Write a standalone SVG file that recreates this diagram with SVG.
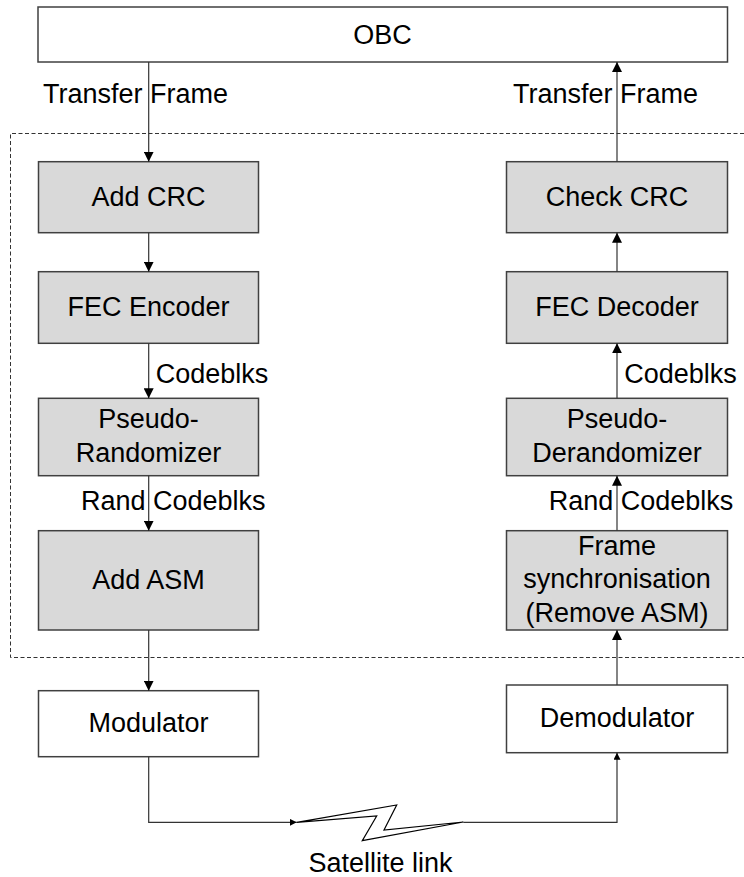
<svg xmlns="http://www.w3.org/2000/svg" width="744" height="877" viewBox="0 0 744 877">
<defs>
<style>
text{font-family:"Liberation Sans",Arial,sans-serif;font-size:27px;fill:#000}
.c{text-anchor:middle}
.box{fill:#d9d9d9;stroke:#404040;stroke-width:1.5}
.wbox{fill:#fff;stroke:#404040;stroke-width:1.5}
.ln{fill:none;stroke:#333;stroke-width:1.2}
.dash{fill:none;stroke:#333;stroke-width:1;stroke-dasharray:4,2.5}
</style>
<marker id="ah" viewBox="0 0 10 10" refX="10" refY="5" markerWidth="10" markerHeight="10" markerUnits="userSpaceOnUse" orient="auto">
<path d="M0,0 L10,5 L0,10 Z" fill="#000"/>
</marker>
<marker id="ahs" viewBox="0 0 10 10" refX="10" refY="5" markerWidth="7" markerHeight="7" markerUnits="userSpaceOnUse" orient="auto">
<path d="M0,0 L10,5 L0,10 Z" fill="#000"/>
</marker>
</defs>
<path class="dash" d="M744,133.5 H10.5 V657.5 H744"/>
<g id="obc"><rect class="wbox" x="38" y="7" width="689.5" height="55"/><text class="c" x="382.5" y="44">OBC</text></g>
<g id="addcrc"><rect class="box" x="38.5" y="161.7" width="220" height="71"/><text class="c" x="148.5" y="206">Add CRC</text></g>
<g id="fecenc"><rect class="box" x="38.5" y="271.7" width="220" height="71.6"/><text class="c" x="148.5" y="316">FEC Encoder</text></g>
<g id="pseudor"><rect class="box" x="38.5" y="398.3" width="220" height="77.4"/><text class="c" x="148.5" y="428.3">Pseudo-</text><text class="c" x="148.5" y="461.7">Randomizer</text></g>
<g id="addasm"><rect class="box" x="38.5" y="530.7" width="220" height="99.3"/><text class="c" x="148.5" y="589">Add ASM</text></g>
<g id="mod"><rect class="wbox" x="38.5" y="690.7" width="220" height="66"/><text class="c" x="148.5" y="732">Modulator</text></g>
<g id="chkcrc"><rect class="box" x="506.5" y="161.7" width="221" height="71"/><text class="c" x="617" y="206">Check CRC</text></g>
<g id="fecdec"><rect class="box" x="506.5" y="271.7" width="221" height="71.6"/><text class="c" x="617" y="316">FEC Decoder</text></g>
<g id="pseudod"><rect class="box" x="506.5" y="398.3" width="221" height="77.4"/><text class="c" x="617" y="428.3">Pseudo-</text><text class="c" x="617" y="461.7">Derandomizer</text></g>
<g id="framesync"><rect class="box" x="506.5" y="530.7" width="221" height="99.3"/><text class="c" x="617" y="555">Frame</text><text class="c" x="617" y="588.3">synchronisation</text><text class="c" x="617" y="621.5">(Remove ASM)</text></g>
<g id="demod"><rect class="wbox" x="506.5" y="685" width="221" height="67.7"/><text class="c" x="617" y="727">Demodulator</text></g>
<g id="connectors">
<line class="ln" x1="148.7" y1="62" x2="148.7" y2="161.7" marker-end="url(#ah)"/>
<line class="ln" x1="148.7" y1="232.7" x2="148.7" y2="271.7" marker-end="url(#ah)"/>
<line class="ln" x1="148.7" y1="343.3" x2="148.7" y2="398.3" marker-end="url(#ah)"/>
<line class="ln" x1="148.7" y1="475.7" x2="148.7" y2="530.7" marker-end="url(#ah)"/>
<line class="ln" x1="148.7" y1="630" x2="148.7" y2="690.7" marker-end="url(#ah)"/>
<polyline class="ln" points="148.7,756.7 148.7,822.3 296.7,822.3" marker-end="url(#ahs)"/>
<polyline class="ln" points="463.3,822.3 617,822.3 617,752.7" marker-end="url(#ahs)"/>
<line class="ln" x1="617" y1="685" x2="617" y2="630" marker-end="url(#ah)"/>
<line class="ln" x1="617" y1="530.7" x2="617" y2="475.7" marker-end="url(#ah)"/>
<line class="ln" x1="617" y1="398.3" x2="617" y2="343.3" marker-end="url(#ah)"/>
<line class="ln" x1="617" y1="271.7" x2="617" y2="232.7" marker-end="url(#ah)"/>
<line class="ln" x1="617" y1="161.7" x2="617" y2="62" marker-end="url(#ah)"/>
<polygon fill="#fff" stroke="#000" stroke-width="1.2" stroke-linejoin="miter" points="296.7,822.3 396.7,805 384,830 463.3,822 362.3,840.7 376.7,816"/>
</g>
<g id="labels">
<text x="43" y="103">Transfer Frame</text>
<text x="513" y="103">Transfer Frame</text>
<text x="155.7" y="383.3">Codeblks</text>
<text x="624.3" y="383.3">Codeblks</text>
<text x="81" y="510">Rand Codeblks</text>
<text x="548.7" y="510">Rand Codeblks</text>
<text class="c" x="380.5" y="871.5">Satellite link</text>
</g>
</svg>
